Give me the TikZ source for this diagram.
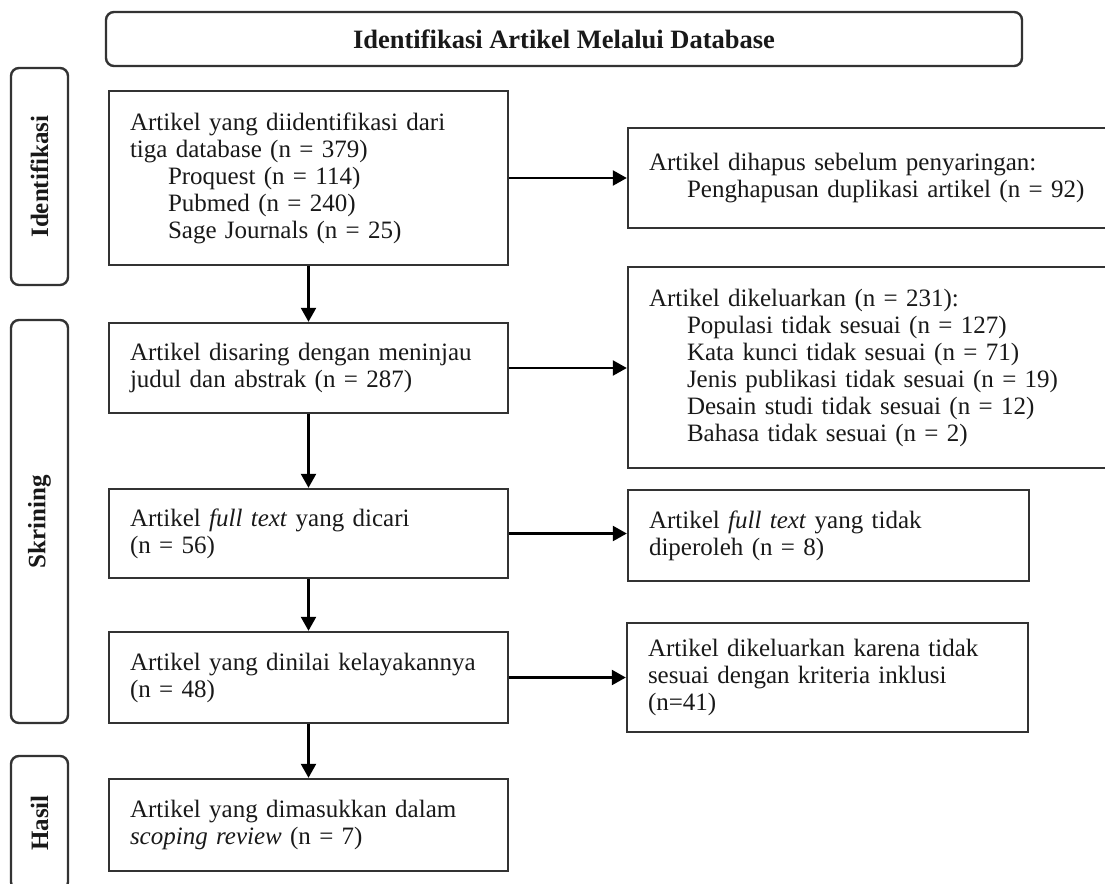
\documentclass[tikz,border=0pt]{standalone}
\usepackage{fontspec}
\setmainfont{Liberation Serif}
\usetikzlibrary{arrows.meta}
\newcommand\myind{\hspace*{38pt}}
\begin{document}
\begin{tikzpicture}[x=1pt,y=-1pt,
  box/.style={draw=black!80, line width=2.4pt, align=left, inner xsep=21pt, inner ysep=0pt,
              font=\fontsize{25}{27}\selectfont, text=black!90},
  side/.style={draw=black!80, line width=2.4pt, rounded corners=8pt, rotate=90,
               font=\fontsize{25}{27}\selectfont\bfseries, inner sep=0pt, text=black!90},
  arr/.style={line width=2.4pt, draw=black, -{Triangle[length=14pt,width=15pt]}}]
\path[use as bounding box, fill=white] (0,0) rectangle (1105,883);
\clip (0,0) rectangle (1105,883);

% header
\node[draw=black!80, line width=2.4pt, rounded corners=8pt, minimum width=916pt, minimum height=54pt,
      inner sep=0pt, font=\fontsize{26.5}{28}\selectfont\bfseries, text=black!90] (head) at (564,39)
      {Identifikasi Artikel Melalui Database};

% side labels
\node[side, minimum width=217pt, minimum height=57pt] (sid) at (39.5,176.5) {Identifikasi};
\node[side, minimum width=403pt, minimum height=57pt] (ssk) at (39.5,521.5) {Skrining};
\node[side, minimum width=134pt, minimum height=57pt] (sha) at (39.5,823) {Hasil};

% left column
\node[box, text width=357pt, minimum height=174pt] (b1) at (308.5,178)
  {Artikel yang diidentifikasi dari\\tiga database (n = 379)\\\myind Proquest (n = 114)\\\myind Pubmed (n = 240)\\\myind Sage Journals (n = 25)};
\node[box, text width=357pt, minimum height=90pt] (b2) at (308.5,368)
  {Artikel disaring dengan meninjau\\judul dan abstrak (n = 287)};
\node[box, text width=357pt, minimum height=89pt] (b3) at (308.5,533.5)
  {Artikel \textit{full text} yang dicari\\(n = 56)};
\node[box, text width=357pt, minimum height=91pt] (b4) at (308.5,677.5)
  {Artikel yang dinilai kelayakannya\\(n = 48)};
\node[box, text width=357pt, minimum height=92pt] (b5) at (308.5,825)
  {Artikel yang dimasukkan dalam\\\textit{scoping review} (n = 7)};

% right column
\node[box, text width=445pt, minimum height=100pt] (r1) at (871.5,178)
  {Artikel dihapus sebelum penyaringan:\\\myind Penghapusan duplikasi artikel (n = 92)};
\node[box, text width=445pt, minimum height=201pt] (r2) at (871.5,367.5)
  {Artikel dikeluarkan (n = 231):\\\myind Populasi tidak sesuai (n = 127)\\\myind Kata kunci tidak sesuai (n = 71)\\\myind Jenis publikasi tidak sesuai (n = 19)\\\myind Desain studi tidak sesuai (n = 12)\\\myind Bahasa tidak sesuai (n = 2)};
\node[box, text width=359pt, minimum height=91pt] (r3) at (828.5,535.5)
  {Artikel \textit{full text} yang tidak\\diperoleh (n = 8)};
\node[box, text width=359pt, minimum height=109pt] (r4) at (827.5,677.5)
  {Artikel dikeluarkan karena tidak\\sesuai dengan kriteria inklusi\\(n=41)};

% arrows
\draw[arr] (b1) -- (b2);
\draw[arr] (b2) -- (b3);
\draw[arr] (b3) -- (b4);
\draw[arr] (b4) -- (b5);
\draw[arr] (b1.east) -- (b1.east -| r1.west);
\draw[arr] (b2.east) -- (b2.east -| r2.west);
\draw[arr] (b3.east) -- (b3.east -| r3.west);
\draw[arr] (b4.east) -- (b4.east -| r4.west);
\end{tikzpicture}
\end{document}
